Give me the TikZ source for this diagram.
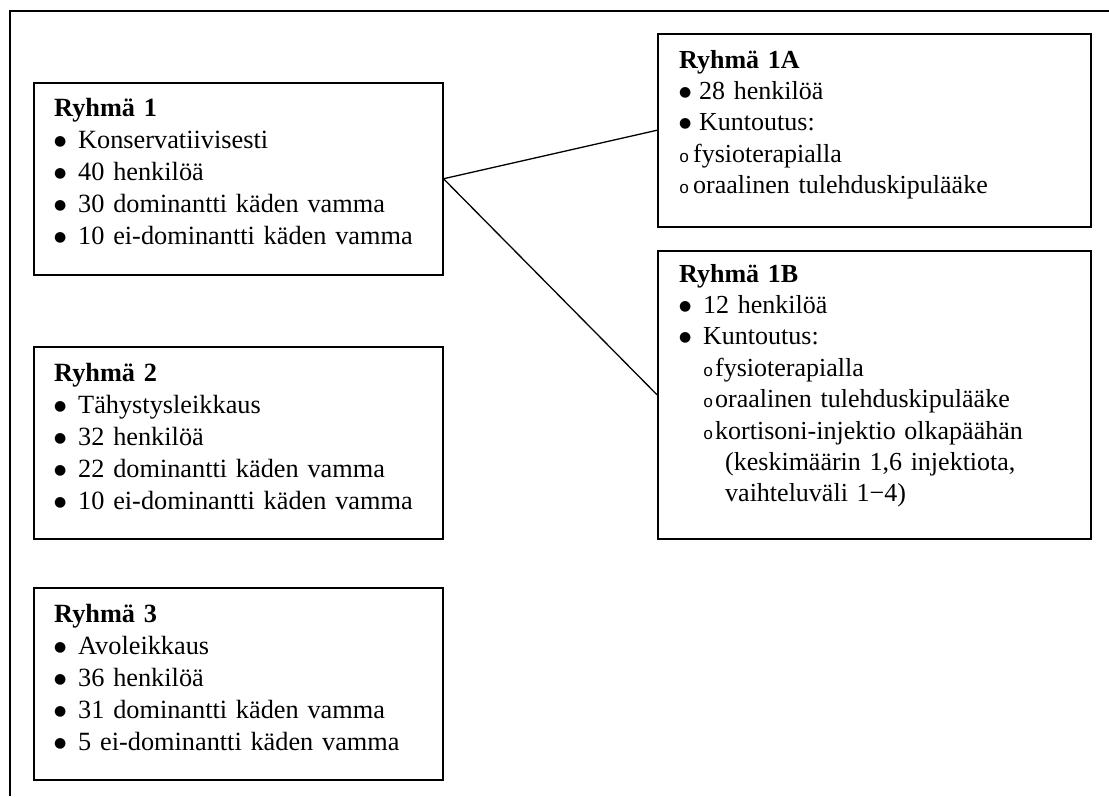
\documentclass[tikz,border=0pt]{standalone}
\usepackage{fontspec}
\setmainfont{Liberation Serif}
\newfontfamily\monof{Liberation Mono}
\newfontfamily\symf{DejaVu Sans}
\usetikzlibrary{calc}
\newcommand\bulA[1]{\makebox[#1][l]{\raisebox{3pt}{\symf\fontsize{14}{14}\selectfont ●}}}
\newcommand\obul[1]{\makebox[#1][l]{\monof\fontsize{17}{17}\selectfont o}}
\tikzset{
  box/.style={draw, line width=1.5pt, rectangle, inner sep=0pt, anchor=north west},
  lbox/.style={box, minimum width=409pt, minimum height=192pt},
  rbox/.style={box, minimum width=433pt},
  txt/.style={anchor=base west, inner sep=0pt, align=left, text width=420pt},
  ltxt/.style={txt, font=\fontsize{26.3}{32}\selectfont},
  rtxt/.style={txt, font=\fontsize{26}{31.4}\selectfont},
  conn/.style={line width=1.3pt}
}
\begin{document}
\begin{tikzpicture}[x=1pt,y=-1pt]
\useasboundingbox (0,0) rectangle (1109,796);
% outer frame
\coordinate (fr) at (1109,10.5);
\coordinate (fc) at (9.5,10.5);
\coordinate (fb) at (9.5,796);
\draw[line width=2pt] (fr) -- (fc) -- (fb);
% left boxes
\node[lbox] (r1) at (33,82) {};
\node[lbox] (r2) at (33,346) {};
\node[lbox] (r3) at (33,587) {};
% right boxes
\node[rbox, minimum height=193pt] (a1) at (657,33) {};
\node[rbox, minimum height=288pt] (b1) at (657,250) {};
% texts
\node[ltxt] (r1t) at ($(r1.north west)+(21,34)$) {\textbf{Ryhmä 1}\\
\bulA{24pt}Konservatiivisesti\\
\bulA{24pt}40 henkilöä\\
\bulA{24pt}30 dominantti käden vamma\\
\bulA{24pt}10 ei-dominantti käden vamma};
\node[ltxt] (r2t) at ($(r2.north west)+(21,35)$) {\textbf{Ryhmä 2}\\
\bulA{24pt}Tähystysleikkaus\\
\bulA{24pt}32 henkilöä\\
\bulA{24pt}22 dominantti käden vamma\\
\bulA{24pt}10 ei-dominantti käden vamma};
\node[ltxt] (r3t) at ($(r3.north west)+(21,35)$) {\textbf{Ryhmä 3}\\
\bulA{24pt}Avoleikkaus\\
\bulA{24pt}36 henkilöä\\
\bulA{24pt}31 dominantti käden vamma\\
\bulA{24pt}5 ei-dominantti käden vamma};
\node[rtxt] (a1t) at ($(a1.north west)+(22,35)$) {\textbf{Ryhmä 1A}\\
\bulA{20pt}28 henkilöä\\
\bulA{20pt}Kuntoutus:\\
\obul{14pt}fysioterapialla\\
\obul{14pt}oraalinen tulehduskipulääke};
\node[rtxt] (b1t) at ($(b1.north west)+(22,32)$) {\textbf{Ryhmä 1B}\\
\bulA{24pt}12 henkilöä\\
\bulA{24pt}Kuntoutus:\\
\hspace*{24pt}\obul{12pt}fysioterapialla\\
\hspace*{24pt}\obul{12pt}oraalinen tulehduskipulääke\\
\hspace*{24pt}\obul{12pt}kortisoni-injektio olkapäähän\\
\hspace*{46pt}(keskimäärin 1,6 injektiota,\\
\hspace*{46pt}vaihteluväli 1−4)};
% connectors
\draw[conn] (r1.east) -- (a1.west);
\draw[conn] (r1.east) -- (b1.west);
\end{tikzpicture}
\end{document}
